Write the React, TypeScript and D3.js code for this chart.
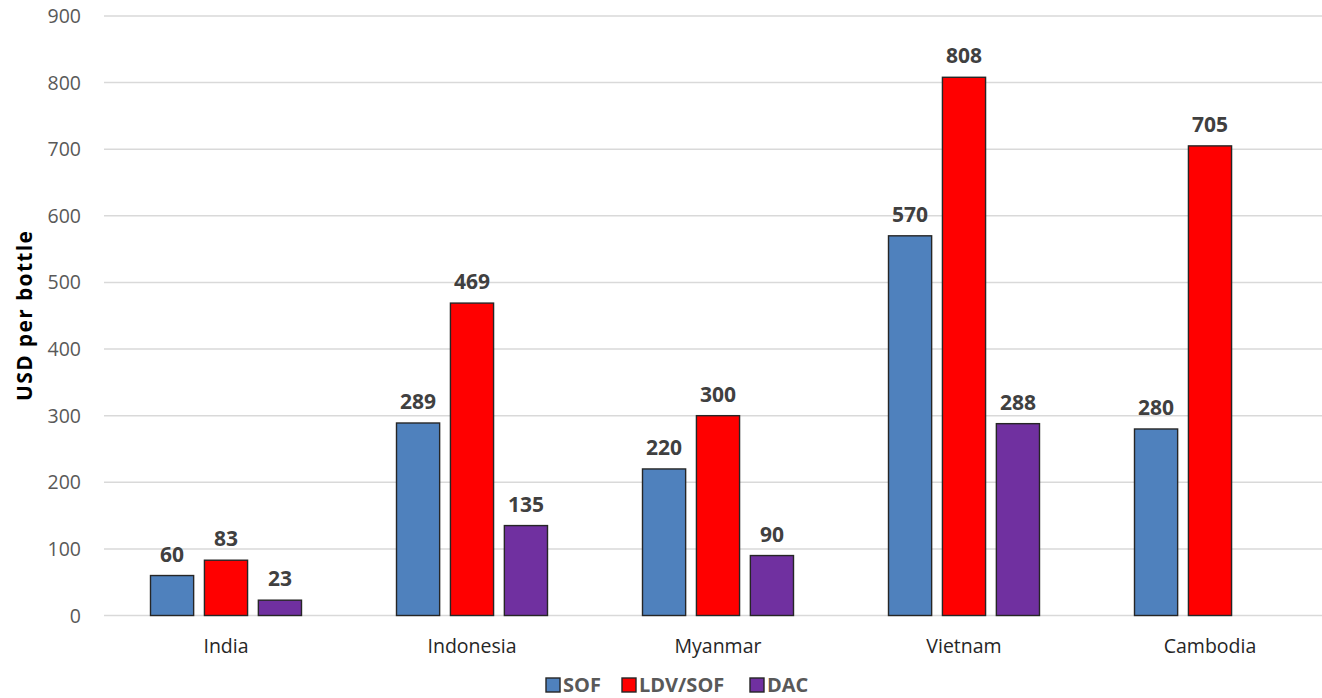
import React from "react";
import * as d3 from "d3";

const countries = ["India", "Indonesia", "Myanmar", "Vietnam", "Cambodia"];
const seriesNames = ["SOF", "LDV/SOF", "DAC"];
const sof = [60, 289, 220, 570, 280];
const ldvSof = [83, 469, 300, 808, 705];
const dac: (number | null)[] = [23, 135, 90, 288, null];
const yTicks = [0, 100, 200, 300, 400, 500, 600, 700, 800, 900];
const colors = ["#4f81bd", "#ff0000", "#7030a0"];

const W = 1322;
const H = 698;
const FONT = "'Open Sans', 'Noto Sans', 'Liberation Sans', sans-serif";

export default function App() {
  const x0 = d3.scaleBand<string>().domain(countries).range([103, 1333]).paddingInner(0).paddingOuter(0);
  const groupW = 151;
  const x1 = d3.scaleBand<string>().domain(seriesNames).range([0, groupW]).paddingInner(0.2).paddingOuter(0);
  const y = d3.scaleLinear().domain([0, 900]).range([615.5, 16]);
  const values = [sof, ldvSof, dac];

  const legendItems = [
    { name: "SOF", x: 546 },
    { name: "LDV/SOF", x: 622 },
    { name: "DAC", x: 750 },
  ];

  return (
    <svg width={W} height={H} style={{ position: "absolute", left: 0, top: 0, background: "#fff" }}>
      <rect x={0} y={0} width={W} height={H} fill="#fff" />
      {yTicks.map((t) => (
        <g key={t}>
          <line x1={104} x2={W} y1={y(t)} y2={y(t)} stroke="#d9d9d9" strokeWidth={1.5} />
          <text x={81} y={y(t)} dy="0.36em" textAnchor="end" fontFamily={FONT} fontSize={19.5} fill="#595959">
            {t}
          </text>
        </g>
      ))}
      <text
        transform={`translate(32,${316}) rotate(-90)`}
        textAnchor="middle"
        fontFamily={FONT}
        fontSize={21}
        fontWeight="bold"
        fill="#000"
        textLength={170}
        lengthAdjust="spacing"
      >
        USD per bottle
      </text>
      {countries.map((c, i) => {
        const gx = (x0(c) as number) + x0.bandwidth() / 2 - groupW / 2;
        return (
          <g key={c}>
            {seriesNames.map((s, j) => {
              const v = values[j][i];
              if (v == null) return null;
              const bx = gx + (x1(s) as number);
              const bw = x1.bandwidth();
              return (
                <g key={s}>
                  <rect
                    x={bx}
                    y={y(v)}
                    width={bw}
                    height={y(0) - y(v)}
                    fill={colors[j]}
                    stroke="#262626"
                    strokeWidth={1.4}
                  />
                  <text
                    x={bx + bw / 2}
                    y={y(v) - 14}
                    textAnchor="middle"
                    fontFamily={FONT}
                    fontSize={21}
                    fontWeight="bold"
                    fill="#404040"
                  >
                    {v}
                  </text>
                </g>
              );
            })}
            <text
              x={(x0(c) as number) + x0.bandwidth() / 2}
              y={653}
              textAnchor="middle"
              fontFamily={FONT}
              fontSize={19.5}
              fill="#262626"
            >
              {c}
            </text>
          </g>
        );
      })}
      {legendItems.map((l, j) => (
        <g key={l.name}>
          <rect x={l.x} y={678} width={14} height={14} fill={colors[j]} stroke="#262626" strokeWidth={1.4} />
          <text x={l.x + 17} y={691.5} fontFamily={FONT} fontSize={20} fontWeight="bold" fill="#595959">
            {l.name}
          </text>
        </g>
      ))}
    </svg>
  );
}
